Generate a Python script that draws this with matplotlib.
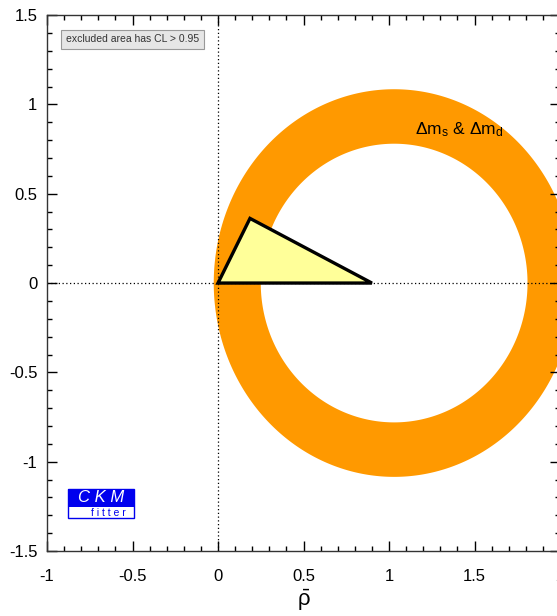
import numpy as np
import matplotlib.pyplot as plt
from matplotlib.patches import Rectangle
from matplotlib.ticker import MultipleLocator

plt.rcParams['font.family'] = ['Liberation Sans', 'DejaVu Sans']
plt.rcParams['axes.unicode_minus'] = False
plt.rcParams['mathtext.fontset'] = 'custom'
plt.rcParams['mathtext.rm'] = 'Liberation Sans'
plt.rcParams['mathtext.it'] = 'Liberation Sans:italic'

# Delta m_s & Delta m_d band: annulus around (rho, eta) = (centre, 0)
band_centre = (1.03, 0.0)
band_inner_r = 0.78
band_outer_rx = 1.055
band_outer_ry = 1.085

# unitarity triangle vertices (rho-bar, eta-bar)
tri_rho = [0.0, 0.187, 0.90]
tri_eta = [0.0, 0.362, 0.0]

x_ticks = [-1, -0.5, 0, 0.5, 1, 1.5, 2]
y_ticks = [-1.5, -1, -0.5, 0, 0.5, 1, 1.5]

fig = plt.figure(figsize=(5.57, 6.16), dpi=100)
ax = fig.add_axes([0.0844, 0.1055, 0.921, 0.870])

# annulus as one polygon: outer boundary ccw, inner boundary cw
t = np.linspace(0, 2 * np.pi, 400)
xo = band_centre[0] + band_outer_rx * np.cos(t)
yo = band_centre[1] + band_outer_ry * np.sin(t)
xi = band_centre[0] + band_inner_r * np.cos(t[::-1])
yi = band_centre[1] + band_inner_r * np.sin(t[::-1])
ax.fill(np.concatenate([xo, xi]), np.concatenate([yo, yi]),
        color='#ff9900', lw=0, zorder=1)

ax.axvline(0, color='black', ls=(0, (1, 2)), lw=0.9, zorder=2)
ax.axhline(0, color='black', ls=(0, (1, 2)), lw=0.9, zorder=2)

ax.fill(tri_rho, tri_eta, facecolor='#ffff99', edgecolor='black',
        lw=2.4, joinstyle='miter', zorder=3)

ax.text(1.41, 0.86, 'Δm$_\\mathregular{s}$ & Δm$_\\mathregular{d}$',
        fontsize=12.5, ha='center', va='center', zorder=4)

# legend box
ax.text(0.037, 0.955, 'excluded area has CL > 0.95', transform=ax.transAxes,
        fontsize=7.5, ha='left', va='center', color='#333333',
        bbox=dict(boxstyle='square,pad=0.45', fc='#e6e6e6', ec='#999999', lw=0.8))

# CKMfitter logo
ax.add_patch(Rectangle((0.041, 0.062), 0.129, 0.054, transform=ax.transAxes,
                       facecolor='white', edgecolor='#0000ee', lw=1.0, zorder=5))
ax.add_patch(Rectangle((0.041, 0.082), 0.129, 0.034, transform=ax.transAxes,
                       facecolor='#0000ee', edgecolor='none', zorder=6))
ax.text(0.105, 0.0995, 'C K M', transform=ax.transAxes, color='white',
        fontsize=12, style='italic', ha='center', va='center', zorder=7)
ax.text(0.12, 0.0715, 'f i t t e r', transform=ax.transAxes, color='#0000ee',
        fontsize=7.5, ha='center', va='center', zorder=7)

ax.set_xlim(-1, 2)
ax.set_ylim(-1.5, 1.5)
ax.set_xticks(x_ticks)
ax.set_yticks(y_ticks)
ax.set_xticklabels([f'{v:g}' for v in x_ticks])
ax.set_yticklabels([f'{v:g}' for v in y_ticks])
ax.xaxis.set_minor_locator(MultipleLocator(0.1))
ax.yaxis.set_minor_locator(MultipleLocator(0.1))
ax.tick_params(which='both', direction='in', top=True, right=True,
               labelsize=12, width=1.0)
ax.tick_params(axis='x', pad=13)
ax.tick_params(axis='y', pad=7)
ax.tick_params(which='major', length=7)
ax.tick_params(which='minor', length=3.5)
for s in ax.spines.values():
    s.set_linewidth(1.0)
    s.set_color('#333333')

ax.set_xlabel('$\\bar{\\mathrm{ρ}}$', fontsize=16, labelpad=3)

fig.savefig('out.png', dpi=100)
